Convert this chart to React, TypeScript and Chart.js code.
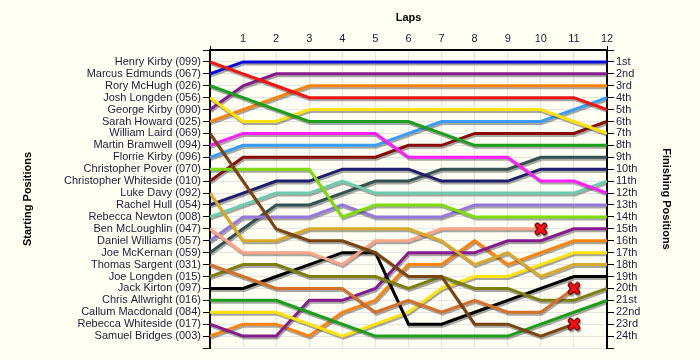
import React, { useEffect, useRef } from 'react';
import { Chart, registerables } from 'chart.js';

Chart.register(...registerables);

const laps = [0, 1, 2, 3, 4, 5, 6, 7, 8, 9, 10, 11, 12];
const lapTickLabels = ['', '1', '2', '3', '4', '5', '6', '7', '8', '9', '10', '11', '12'];

const startingNames = [
  'Henry Kirby (099)', 'Marcus Edmunds (067)', 'Rory McHugh (026)', 'Josh Longden (056)',
  'George Kirby (090)', 'Sarah Howard (025)', 'William Laird (069)', 'Martin Bramwell (094)',
  'Florrie Kirby (096)', 'Christopher Pover (070)', 'Christopher Whiteside (010)', 'Luke Davy (092)',
  'Rachel Hull (054)', 'Rebecca Newton (008)', 'Ben McLoughlin (047)', 'Daniel Williams (057)',
  'Joe McKernan (059)', 'Thomas Sargent (031)', 'Joe Longden (015)', 'Jack Kirton (097)',
  'Chris Allwright (016)', 'Callum Macdonald (084)', 'Rebecca Whiteside (017)', 'Samuel Bridges (003)',
];

const finishingLabels = [
  '1st', '2nd', '3rd', '4th', '5th', '6th', '7th', '8th', '9th', '10th', '11th', '12th',
  '13th', '14th', '15th', '16th', '17th', '18th', '19th', '20th', '21st', '22nd', '23rd', '24th',
];

// positions per lap (lap 0 .. lap 12); null = retired
const henryKirby = [1, 2, 3, 4, 4, 4, 4, 4, 4, 4, 4, 4, 5];
const marcusEdmunds = [2, 1, 1, 1, 1, 1, 1, 1, 1, 1, 1, 1, 1];
const roryMcHugh = [3, 4, 5, 6, 6, 6, 6, 7, 8, 8, 8, 8, 8];
const joshLongden = [4, 6, 6, 5, 5, 5, 5, 5, 5, 5, 5, 6, 7];
const georgeKirby = [5, 3, 2, 2, 2, 2, 2, 2, 2, 2, 2, 2, 2];
const sarahHoward = [6, 5, 4, 3, 3, 3, 3, 3, 3, 3, 3, 3, 3];
const williamLaird = [7, 11, 15, 16, 16, 17, 19, 19, 23, 23, 24, 23, null];
const martinBramwell = [8, 7, 7, 7, 7, 7, 9, 9, 9, 9, 11, 11, 12];
const florrieKirby = [9, 8, 8, 8, 8, 8, 7, 6, 6, 6, 6, 5, 4];
const christopherPover = [10, 10, 10, 10, 14, 13, 13, 13, 14, 14, 14, 14, 14];
const christopherWhiteside = [11, 9, 9, 9, 9, 9, 8, 8, 7, 7, 7, 7, 6];
const lukeDavy = [12, 16, 16, 15, 15, 15, 15, 16, 18, 17, 19, 18, 18];
const rachelHull = [13, 12, 11, 11, 10, 10, 10, 11, 11, 11, 10, 10, 10];
const rebeccaNewton = [14, 13, 12, 12, 11, 12, 12, 12, 12, 12, 12, 12, 11];
const benMcLoughlin = [15, 17, 17, 17, 18, 16, 16, 15, 15, 15, 15, null, null];
const danielWilliams = [16, 14, 14, 14, 13, 14, 14, 14, 13, 13, 13, 13, 13];
const joeMcKernan = [17, 15, 13, 13, 12, 11, 11, 10, 10, 10, 9, 9, 9];
const thomasSargent = [18, 19, 20, 20, 20, 22, 21, 22, 21, 22, 22, 20, null];
const joeLongden = [19, 18, 18, 19, 19, 19, 20, 19, 20, 20, 21, 21, 20];
const jackKirton = [20, 20, 19, 18, 17, 17, 23, 23, 22, 21, 20, 19, 19];
const chrisAllwright = [21, 21, 21, 22, 23, 24, 24, 24, 24, 24, 23, 22, 21];
const callumMacdonald = [22, 22, 22, 23, 24, 23, 22, 20, 19, 19, 18, 17, 17];
const rebeccaWhiteside = [23, 24, 24, 21, 21, 20, 17, 17, 17, 16, 16, 15, 15];
const samuelBridges = [24, 23, 23, 24, 22, 21, 18, 18, 16, 18, 17, 16, 16];

const driverSeries = [
  henryKirby, marcusEdmunds, roryMcHugh, joshLongden, georgeKirby, sarahHoward,
  williamLaird, martinBramwell, florrieKirby, christopherPover, christopherWhiteside, lukeDavy,
  rachelHull, rebeccaNewton, benMcLoughlin, danielWilliams, joeMcKernan, thomasSargent,
  joeLongden, jackKirton, chrisAllwright, callumMacdonald, rebeccaWhiteside, samuelBridges,
];

const driverColors = [
  '#F01414', '#0A0AD8', '#1C9E1C', '#FFE20A', '#861A8E', '#FF820A',
  '#7A4310', '#FF1EFF', '#3A9CF8', '#7EDC0A', '#8A0A0A', '#DAA82A',
  '#1E1E6E', '#6CCCB0', '#FFA488', '#9678DC', '#345252', '#D4702A',
  '#7E7E10', '#000000', '#1C9E1C', '#FFE20A', '#861A8E', '#FF820A',
];

const FONT = "'Liberation Sans', Arial, sans-serif";
const TEXT = '#1C1C3A';
const GRID = '#E4E4E4';

function makeCross(): HTMLCanvasElement {
  const c = document.createElement('canvas');
  c.width = 14;
  c.height = 14;
  const g = c.getContext('2d')!;
  g.lineCap = 'round';
  g.strokeStyle = '#5A0000';
  g.lineWidth = 5.5;
  g.beginPath();
  g.moveTo(3.5, 3.5); g.lineTo(10.5, 10.5);
  g.moveTo(10.5, 3.5); g.lineTo(3.5, 10.5);
  g.stroke();
  g.strokeStyle = '#FF1010';
  g.lineWidth = 3.2;
  g.beginPath();
  g.moveTo(3.5, 3.5); g.lineTo(10.5, 10.5);
  g.moveTo(10.5, 3.5); g.lineTo(3.5, 10.5);
  g.stroke();
  return c;
}

const shadowPlugin = {
  id: 'lineShadow',
  beforeDatasetsDraw(chart: any) {
    const ctx = chart.ctx;
    ctx.save();
    ctx.shadowColor = 'rgba(60,60,60,0.45)';
    ctx.shadowOffsetX = 1;
    ctx.shadowOffsetY = 2;
    ctx.shadowBlur = 0.5;
  },
  afterDatasetsDraw(chart: any) {
    chart.ctx.restore();
  },
};

export default function App() {
  const ref = useRef<HTMLCanvasElement | null>(null);

  useEffect(() => {
    if (!ref.current) return;
    const cross = makeCross();
    const datasets = driverSeries.map((positions, i) => {
      let lastIdx = -1;
      positions.forEach((p, k) => { if (p !== null) lastIdx = k; });
      const retired = positions[positions.length - 1] === null;
      return {
        label: startingNames[i],
        data: laps.map((lap, k) => ({ x: lap, y: positions[k] })),
        borderColor: driverColors[i],
        backgroundColor: driverColors[i],
        borderWidth: 3,
        tension: 0,
        fill: false,
        yAxisID: 'yLeft',
        pointRadius: (c: any) => (retired && c.dataIndex === lastIdx ? 6 : 0),
        pointHoverRadius: 0,
        pointStyle: (c: any) => (retired && c.dataIndex === lastIdx ? cross : 'circle'),
      };
    });

    const chart = new Chart(ref.current, {
      type: 'line',
      data: { datasets },
      plugins: [shadowPlugin],
      options: {
        animation: false,
        responsive: false,
        events: [],
        layout: { padding: { left: 0, right: 0, top: 0, bottom: 12 } },
        plugins: { legend: { display: false }, tooltip: { enabled: false } },
        scales: {
          x: {
            type: 'linear',
            position: 'top',
            min: 0,
            max: 12,
            afterFit: (s: any) => { s.height = 50; },
            ticks: {
              stepSize: 1,
              autoSkip: false,
              maxRotation: 0,
              padding: 0,
              color: TEXT,
              font: { family: FONT, size: 11 },
              callback: (v: any) => lapTickLabels[laps.indexOf(Number(v))] ?? '',
            },
            grid: {
              color: GRID,
              lineWidth: 1,
              tickLength: 4,
              tickColor: (c: any) => (c.tick && (c.tick.value === 0 || c.tick.value === 12) ? '#000' : 'rgba(0,0,0,0)'),
            },
            border: { display: true, color: '#000', width: 2 },
            title: {
              display: true,
              text: 'Laps',
              color: '#000',
              font: { family: FONT, size: 11, weight: 'bold' },
              padding: { top: 11.5, bottom: 0 },
            },
          },
          yLeft: {
            type: 'linear',
            position: 'left',
            reverse: true,
            min: 0,
            max: 25,
            afterFit: (s: any) => { s.width = 210; },
            ticks: {
              stepSize: 1,
              autoSkip: false,
              padding: 2,
              color: TEXT,
              font: { family: FONT, size: 11 },
              callback: (v: any) => startingNames[Number(v) - 1] ?? '',
            },
            grid: { color: GRID, lineWidth: 1, tickLength: 7, tickColor: '#000' },
            border: { display: true, color: '#000', width: 2 },
            title: {
              display: true,
              text: 'Starting Positions',
              color: '#000',
              font: { family: FONT, size: 11, weight: 'bold' },
              padding: { top: 21, bottom: 0 },
            },
          },
          yRight: {
            type: 'linear',
            position: 'right',
            reverse: true,
            min: 0,
            max: 25,
            afterFit: (s: any) => { s.width = 93; },
            ticks: {
              stepSize: 1,
              autoSkip: false,
              padding: 2,
              color: TEXT,
              font: { family: FONT, size: 11 },
              callback: (v: any) => finishingLabels[Number(v) - 1] ?? '',
            },
            grid: { drawOnChartArea: false, tickLength: 7, tickColor: '#000' },
            border: { display: true, color: '#000', width: 2 },
            title: {
              display: true,
              text: 'Finishing Positions',
              color: '#000',
              font: { family: FONT, size: 11, weight: 'bold' },
              padding: { top: 27, bottom: 0 },
            },
          },
        },
      } as any,
    });
    return () => chart.destroy();
  }, []);

  return (
    <div style={{ position: 'absolute', left: 0, top: 0, width: 700, height: 360, background: '#FFFFF4' }}>
      <canvas ref={ref} width={700} height={360} style={{ display: 'block', width: 700, height: 360 }} />
    </div>
  );
}
